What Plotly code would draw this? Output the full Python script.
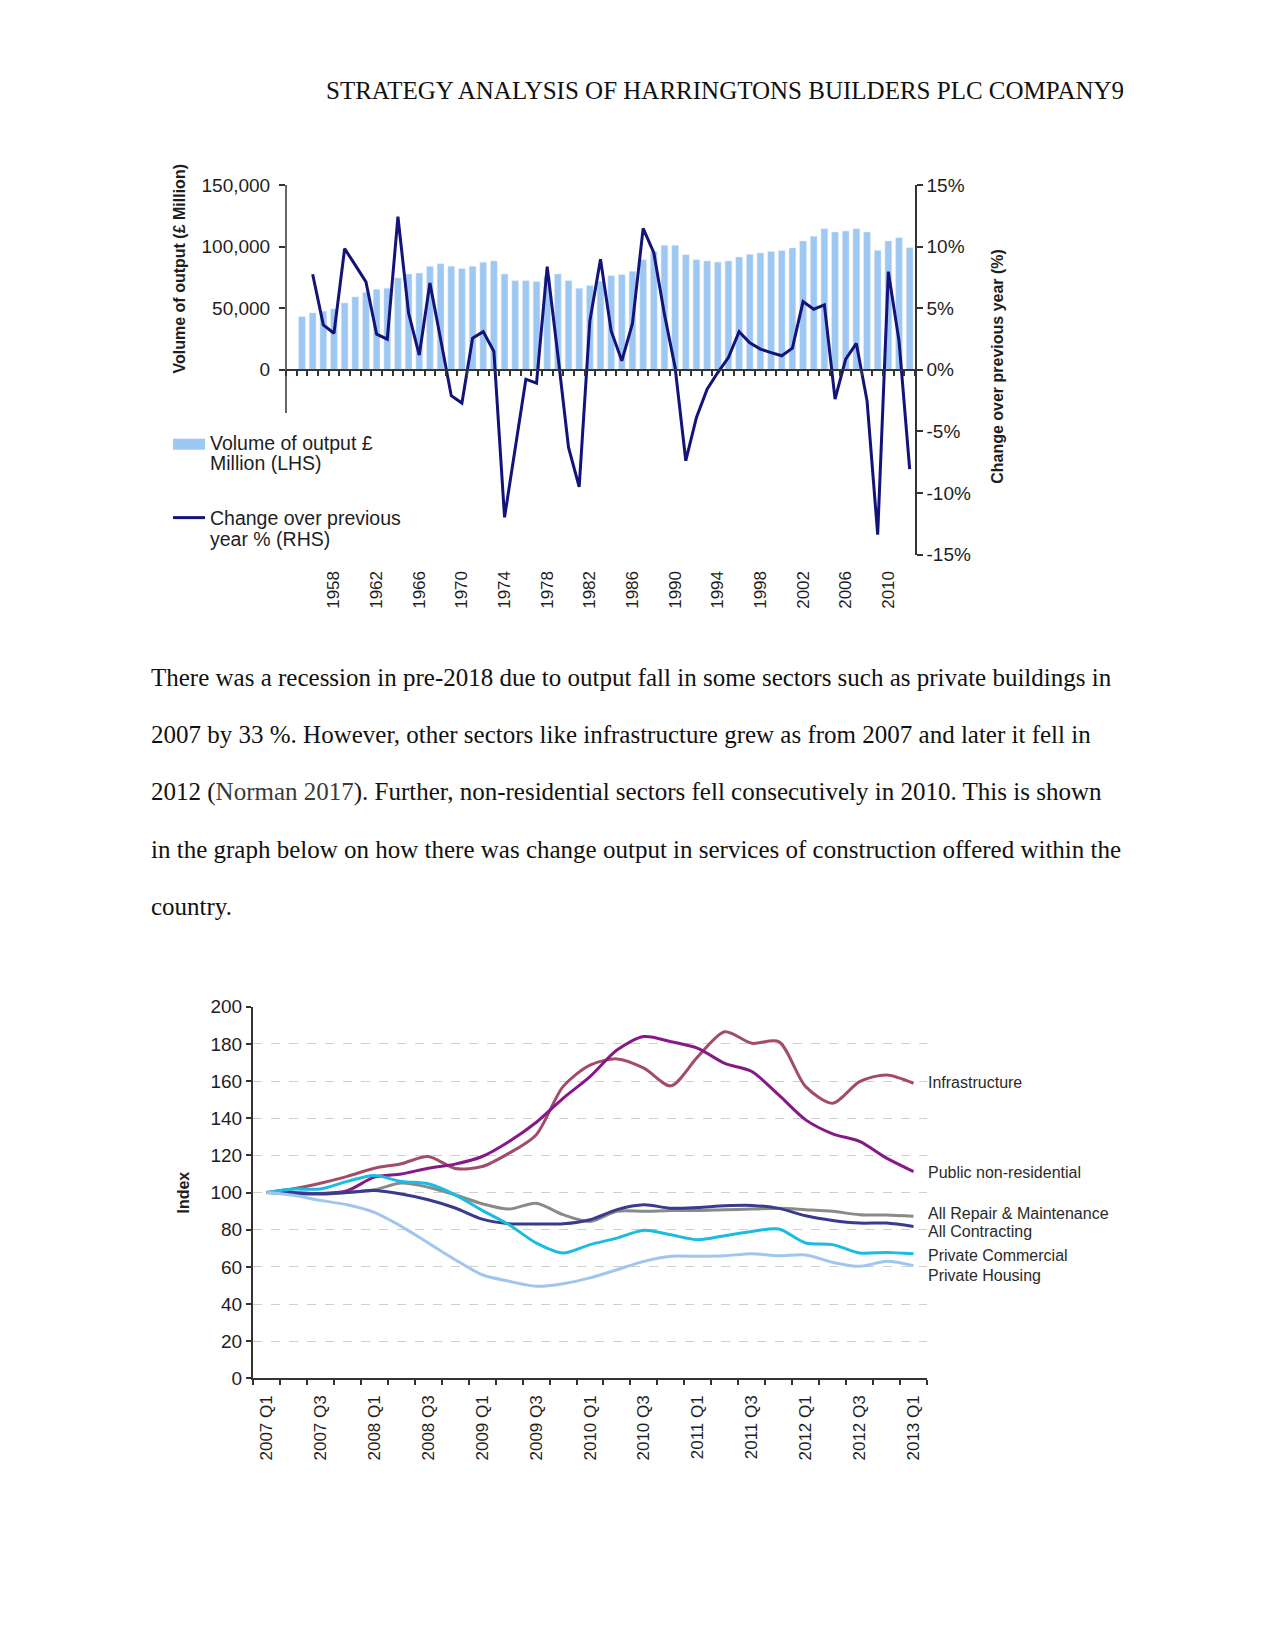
import plotly.graph_objects as go

W, H = 1275, 1651
# small vertical calibration of the rendered page (measured from earlier renders)
V_OFF, V_SCALE = 8.7, 0.9886


def fx(x):
    return x / W


def fy(y):
    return 1 - ((y - V_OFF) / V_SCALE) / H


# ---------------- data: chart 1 ----------------
years = list(range(1955, 2013))
volume = [43200, 46200, 47600, 49500, 54300, 59200, 63000, 65400, 66200, 74600,
          77800, 78600, 84100, 86200, 84100, 82200, 84100, 87300, 88400, 77800,
          72400, 72400, 71600, 76000, 77800, 72400, 66200, 68400, 72000, 76500,
          77300, 80000, 89400, 96000, 101200, 101200, 93500, 89400, 88400, 87500,
          88400, 91600, 93800, 94900, 96000, 96800, 99000, 104600, 108400, 114600,
          111900, 112700, 114600, 111900, 97000, 104600, 107300, 99200]
pct_years = list(range(1956, 2013))
pct_change = [7.76, 3.65, 2.97, 9.84, 8.5, 7.14, 2.89, 2.49, 12.43, 4.6,
              1.2, 7.05, 2.5, -2.1, -2.7, 2.57, 3.1, 1.49, -11.98, -6.4,
              -0.76, -1.08, 8.38, 1.2, -6.3, -9.5, 3.97, 8.97, 3.16, 0.73,
              3.76, 11.49, 9.51, 4.5, 0.19, -7.38, -3.86, -1.57, -0.22, 1.0,
              3.1, 2.2, 1.68, 1.4, 1.14, 1.76, 5.54, 4.92, 5.27, -2.38,
              0.86, 2.14, -2.5, -13.38, 7.97, 2.35, -8.06]
year_ticks = list(range(1958, 2011, 4))
left_ticks = [0, 50000, 100000, 150000]
left_labels = ["0", "50,000", "100,000", "150,000"]
right_ticks = [-15, -10, -5, 0, 5, 10, 15]
right_labels = ["-15%", "-10%", "-5%", "0%", "5%", "10%", "15%"]

# ---------------- data: chart 2 ----------------
quarters = [f"{y} Q{q}" for y in range(2007, 2014) for q in range(1, 5)][:25]
series_names = ["Infrastructure", "Public non-residential", "All Repair & Maintenance",
                "All Contracting", "Private Commercial", "Private Housing"]
infrastructure = [100, 102, 105, 108.7, 113.1, 115.5, 119.4, 113, 114, 121.2,
                  131, 157, 168.6, 171.9, 166.9, 157.4, 173.1, 186.5, 180.3, 181.2,
                  157, 148, 159.7, 163.3, 158.8]
public_nonres = [100, 100, 99.5, 101, 108.3, 110, 113.1, 115.3, 119.4, 127.5,
                 137.7, 150.7, 162.4, 176.7, 183.9, 181.2, 177.6, 169.5, 165.1, 152.5,
                 139.1, 131.6, 127.5, 118.5, 111.3]
repair_maint = [100, 99.4, 99.2, 100.1, 101.5, 105.1, 102.9, 98.8, 94, 91.1,
                94.3, 88.1, 84.5, 89.9, 89.9, 90.4, 90.4, 90.8, 91.1, 91.6,
                90.8, 89.9, 88.1, 87.9, 87.2]
all_contracting = [100, 99.7, 99.3, 100, 101.1, 99.2, 96.1, 91.7, 85.7, 83.2,
                   83.1, 83.2, 85.4, 90.8, 93.4, 91.6, 92, 92.9, 93.1, 91.5,
                   87.5, 85, 83.6, 83.6, 81.8]
private_commercial = [100, 101.9, 101.9, 106, 109.2, 106, 104.7, 98.8, 90.4, 82.7,
                      72.9, 67.5, 72, 75.5, 79.7, 77.3, 74.6, 76.8, 79.1, 80.4,
                      72.9, 72, 67.5, 67.8, 67.1]
private_housing = [100, 98.5, 95.8, 93.4, 89.3, 81.8, 72.9, 63.9, 55.8, 52.3,
                   49.6, 51, 54.1, 58.5, 63, 65.7, 65.7, 66, 67.1, 66,
                   66.4, 62.5, 60.3, 63, 60.7]
label_y = [159, 110.7, 88.6, 79, 66, 55.3]
index_ticks = list(range(0, 201, 20))

series_values = [infrastructure, public_nonres, repair_maint, all_contracting,
                 private_commercial, private_housing]
series_colors = ["#A24C6A", "#871887", "#8A8A8A", "#3A3A8E", "#1BBCE2", "#A0C6EE"]

SANS = "Liberation Sans, Arial, sans-serif"
SERIF = "Liberation Serif, Times New Roman, serif"
INK = "#1e1e1e"

fig = go.Figure()

# ---- chart 1 geometry ----
x1d = [fx(286), fx(915)]
y1d = [fy(554), fy(184)]
zero_pos = y1d[0] + (0 - (-150000)) / 300000 * (y1d[1] - y1d[0])
x1_range = [1953.5, 2012.5]

fig.add_trace(go.Bar(x=years, y=volume, marker_color="#9DC8F4", width=0.64,
                     xaxis="x", yaxis="y", showlegend=False, hoverinfo="skip"))
fig.add_trace(go.Scatter(x=pct_years, y=pct_change, mode="lines",
                         line=dict(color="#13137A", width=3),
                         xaxis="x", yaxis="y2", showlegend=False))
fig.add_trace(go.Scatter(x=[years[0]], y=[0], mode="markers", marker=dict(opacity=0),
                         xaxis="x2", yaxis="y", showlegend=False, hoverinfo="skip"))

# ---- chart 2 ----
xi = list(range(len(quarters)))
for name, vals, col in zip(series_names, series_values, series_colors):
    fig.add_trace(go.Scatter(x=xi, y=vals, mode="lines", name=name,
                             line=dict(color=col, width=3, shape="spline", smoothing=0.8),
                             xaxis="x3", yaxis="y3", showlegend=False))

x3d = [fx(253), fx(927)]
y3d = [fy(1379), fy(1006.7)]

fig.update_layout(
    width=W, height=H, margin=dict(l=0, r=0, t=0, b=0),
    paper_bgcolor="white", plot_bgcolor="rgba(0,0,0,0)",
    font=dict(family=SANS, color=INK),
    xaxis=dict(domain=x1d, anchor="y", range=x1_range,
               tickmode="array", tickvals=year_ticks, ticktext=[str(v) for v in year_ticks],
               tickangle=-90, tickfont=dict(size=17, color=INK), ticks="",
               ticklabelstandoff=12, showline=False, showgrid=False, zeroline=False),
    xaxis2=dict(domain=x1d, overlaying="x", anchor="free", position=zero_pos,
                range=x1_range, tickmode="linear", tick0=1953.5, dtick=1,
                ticks="outside", ticklen=5, tickwidth=1.5, tickcolor="#333",
                showticklabels=False, showline=True, linecolor="#333", linewidth=2,
                showgrid=False, zeroline=False),
    yaxis=dict(domain=y1d, anchor="x", range=[-150000, 150000], tickmode="array",
               tickvals=left_ticks, ticktext=left_labels,
               tickfont=dict(size=19, color=INK), ticks="outside", ticklen=6,
               ticklabelstandoff=5,
               tickcolor="#333", tickwidth=1.5, showline=False, showgrid=False,
               zeroline=False),
    yaxis2=dict(domain=y1d, overlaying="y", side="right", anchor="x", range=[-15, 15],
                tickmode="array", tickvals=right_ticks, ticktext=right_labels,
                tickfont=dict(size=19, color=INK), ticks="outside", ticklen=6,
                tickcolor="#333", tickwidth=1.5, showline=True, linecolor="#333",
                linewidth=1.5, showgrid=False, zeroline=False),
    xaxis3=dict(domain=x3d, anchor="y3", range=[-0.5, len(quarters) - 0.5],
                tickmode="array", tickvals=xi[::2], ticktext=quarters[::2],
                tickangle=-90, tickfont=dict(size=17, color=INK), ticks="",
                ticklabelstandoff=8,
                minor=dict(ticks="outside", tick0=-0.5, dtick=1, ticklen=5,
                           tickcolor="#333", tickwidth=1.5),
                showline=True, linecolor="#333", linewidth=2, showgrid=False,
                zeroline=False),
    yaxis3=dict(domain=y3d, anchor="x3", range=[0, 200], tickmode="array",
                tickvals=index_ticks, tickfont=dict(size=19, color=INK),
                ticks="outside", ticklen=5, tickcolor="#333", tickwidth=1.5,
                showline=True, linecolor="#333", linewidth=2, showgrid=True,
                gridcolor="#cfcfcf", griddash="dash", gridwidth=1, zeroline=False),
)

shapes = [
    # left axis line of chart 1 (stops a little below zero)
    dict(type="line", xref="x domain", yref="y", x0=0, x1=0, y0=-35000, y1=150000,
         line=dict(color="#333", width=1.5)),
    # legend keys
    dict(type="rect", xref="paper", yref="paper", x0=fx(173), x1=fx(205),
         y0=fy(449), y1=fy(438), fillcolor="#9DC8F4", line=dict(width=0)),
    dict(type="line", xref="paper", yref="paper", x0=fx(173), x1=fx(205),
         y0=fy(517), y1=fy(517), line=dict(color="#13137A", width=3)),
]
fig.update_layout(shapes=shapes)

ann = []


def text_at(t, x, y, size, family=SANS, color=INK, xanchor="left", angle=0, yref="paper"):
    ann.append(dict(text=t, x=fx(x), y=(fy(y) if yref == "paper" else y), xref="paper",
                    yref=yref, xanchor=xanchor, yanchor="middle", textangle=angle,
                    showarrow=False, font=dict(family=family, size=size, color=color)))


# header
text_at("STRATEGY ANALYSIS OF HARRINGTONS BUILDERS PLC COMPANY9", 1126, 89.5, 25,
        family=SERIF, color="#111", xanchor="right")
# body text
body = [
    "There was a recession in pre-2018 due to output fall in some sectors such as private buildings in",
    "2007 by 33 %. However, other sectors like infrastructure grew as from 2007 and later it fell in",
    "2012 (<span style='color:#3a3a3a'>Norman 2017</span>). Further, non-residential sectors fell consecutively in 2010. This is shown",
    "in the graph below on how there was change output in services of construction offered within the",
    "country.",
]
body_y = [677, 734, 792, 849.6, 906.5]
for t, yy in zip(body, body_y):
    text_at(t, 149, yy, 25, family=SERIF, color="#111")

# chart 1 axis titles
text_at("<b>Volume of output (£ Million)</b>", 179, 268.5, 16, xanchor="center", angle=-90)
text_at("<b>Change over previous year (%)</b>", 998, 366, 16, xanchor="center", angle=-90)
# chart 1 legend
for t, yy in zip(["Volume of output £", "Million (LHS)",
                  "Change over previous", "year % (RHS)"], [442, 462, 517, 538]):
    text_at(t, 208, yy, 19.5)

# chart 2 titles / labels
text_at("<b>Index</b>", 184, 100, 16, xanchor="center", angle=-90, yref="y3")
for name, ly in zip(series_names, label_y):
    text_at(name, 926, ly, 16, color="#2a2a2a", yref="y3")

fig.update_layout(annotations=ann)

fig.write_html("out.html")
